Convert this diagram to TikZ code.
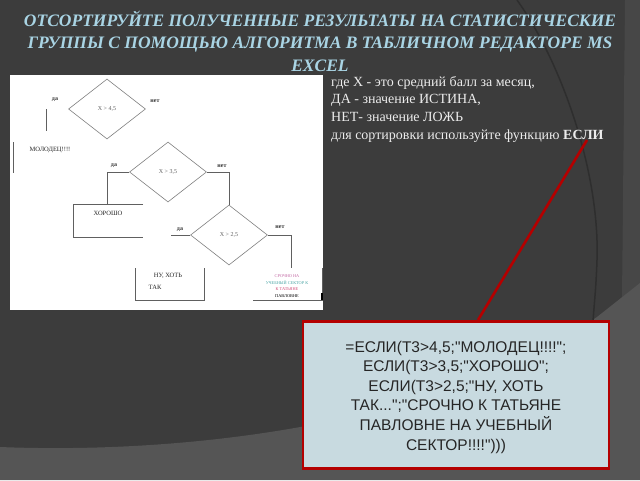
\documentclass[tikz,border=0pt]{standalone}
\usepackage{fontspec}
\setmainfont{Liberation Serif}
\newfontfamily\boxsans{Liberation Sans}
\usetikzlibrary{shapes.geometric}
\definecolor{bgdark}{HTML}{3C3C3C}
\definecolor{bgmid}{HTML}{474747}
\definecolor{bglow}{HTML}{555555}
\definecolor{arcc}{HTML}{2E2E2E}
\definecolor{titlec}{HTML}{A9D4E4}
\definecolor{textc}{HTML}{ECECEC}
\definecolor{redc}{HTML}{B40000}
\definecolor{boxfill}{HTML}{C8DAE0}
\definecolor{fl}{HTML}{606060}
\tikzset{
  dia/.style={diamond, draw=fl!80, line width=0.6pt, minimum width=77pt, minimum height=60pt, inner sep=0pt, font=\fontsize{6}{7}\selectfont, text=fl},
  lbl/.style={font=\fontsize{6}{7}\selectfont\bfseries, text=black!80, inner sep=0pt},
  flline/.style={draw=fl, line width=1pt},
  smalltxt/.style={font=\fontsize{6.5}{7.5}\selectfont, text=black!85, inner sep=0pt, align=center},
}
\begin{document}
\begin{tikzpicture}[x=1pt,y=-1pt]
\useasboundingbox (0,0) rectangle (640,480);
% background
\fill[bgdark] (0,0) rectangle (640,480);
\fill[bgmid] (625,0) -- (640,0) -- (640,290) -- (622,300) -- cycle;
\fill[bglow] (0,447) .. controls (200,455) and (450,420) .. (597,317) -- (640,283) -- (640,480) -- (0,480) -- cycle;
\draw[arcc, line width=1.5pt] (517,0) .. controls (560,60) and (600,170) .. (597,260) .. controls (596,290) and (594,305) .. (593,322);
% title
\node[font=\fontsize{17.5}{22.5}\selectfont\bfseries\itshape, text=titlec, align=center, inner sep=0pt] (title) at (320,41)
  {ОТСОРТИРУЙТЕ ПОЛУЧЕННЫЕ РЕЗУЛЬТАТЫ НА СТАТИСТИЧЕСКИЕ\\ГРУППЫ С ПОМОЩЬЮ АЛГОРИТМА В ТАБЛИЧНОМ РЕДАКТОРЕ MS\\EXCEL};
% white picture
\fill[white] (10,75) rectangle (323,310);
% flowchart
\node[dia] (d1) at (107,109) {X > 4,5};
\node[dia] (d2) at (168,172) {X > 3,5};
\node[dia] (d3) at (229,235) {X > 2,5};
\node[lbl] (da1) at (55,100) {да};
\node[lbl] (net1) at (155,101) {нет};
\node[lbl] (da2) at (114,166) {да};
\node[lbl] (net2) at (222,166) {нет};
\node[lbl] (da3) at (180,230) {да};
\node[lbl] (net3) at (280,227) {нет};
\coordinate (v1a) at (46,109); \coordinate (v1b) at (46,131);
\draw[flline] (v1a) -- (v1b);
\coordinate (v2a) at (13,142); \coordinate (v2b) at (13,173);
\draw[flline] (v2a) -- (v2b);
\node[smalltxt] (mol) at (50,150) {МОЛОДЕЦ!!!!};
\coordinate (h1) at (107,204);
\draw[flline] (d2.west) -| (h1);
\draw[flline] (d2.east) -| (d3.north);
\coordinate (k1) at (143,204); \coordinate (k2) at (73,204);
\coordinate (k3) at (73,237); \coordinate (k4) at (143,237);
\draw[flline] (k1) -- (k2) -- (k3) -- (k4);
\node[smalltxt] (hor) at (108,213) {ХОРОШО};
\coordinate (l3) at (171,235);
\draw[flline] (d3.west) -- (l3);
\coordinate (r3) at (291,268);
\draw[flline] (d3.east) -| (r3);
\coordinate (n1) at (135,268); \coordinate (n2) at (135,300);
\coordinate (n3) at (204,300); \coordinate (n4) at (204,268);
\draw[flline] (n1) -- (n2) -- (n3) -- (n4);
\node[smalltxt] (nu1) at (168,276) {НУ, ХОТЬ};
\node[smalltxt] (nu2) at (155,287) {ТАК};
\coordinate (s1) at (253,300); \coordinate (s2) at (322,300); \coordinate (s3) at (322,268);
\draw[flline] (s1) -- (s2) -- (s3);
\fill[black] (321,293) rectangle (323,300);
\node[font=\fontsize{4.3}{6.8}\selectfont, inner sep=0pt, align=center] (sr) at (287,286)
  {\textcolor{red!60!blue!60}{СРОЧНО НА}\\\textcolor{green!50!blue!70}{УЧЕБНЫЙ СЕКТОР К}\\\textcolor{purple!70}{К ТАТЬЯНЕ}\\\textcolor{black}{ПАВЛОВНЕ}};
% right text
\node[anchor=north west, font=\fontsize{14}{17.6}\selectfont, text=textc, align=left, inner sep=0pt] (info) at (331,76)
  {где X - это средний балл за месяц,\\ДА - значение ИСТИНА,\\НЕТ- значение ЛОЖЬ\\для сортировки используйте функцию \textbf{ЕСЛИ}};
% formula box
\node[draw=redc, line width=2.6pt, fill=boxfill, minimum width=306pt, minimum height=147pt, inner sep=0pt] (f) at (456,395) {};
\node[font=\boxsans\fontsize{15.5}{19.6}\selectfont, text=black!85, align=center, inner sep=0pt] (ft) at (456,397)
  {=ЕСЛИ(Т3>4,5;"МОЛОДЕЦ!!!!";\\ЕСЛИ(Т3>3,5;"ХОРОШО";\\ЕСЛИ(Т3>2,5;"НУ, ХОТЬ\\ТАК...";"СРОЧНО К ТАТЬЯНЕ\\ПАВЛОВНЕ НА УЧЕБНЫЙ\\СЕКТОР!!!!")))};
\coordinate (lk) at (478,320);
\coordinate (esli) at (587,140);
\draw[redc, line width=2.6pt] (lk) -- (esli);
\end{tikzpicture}
\end{document}
